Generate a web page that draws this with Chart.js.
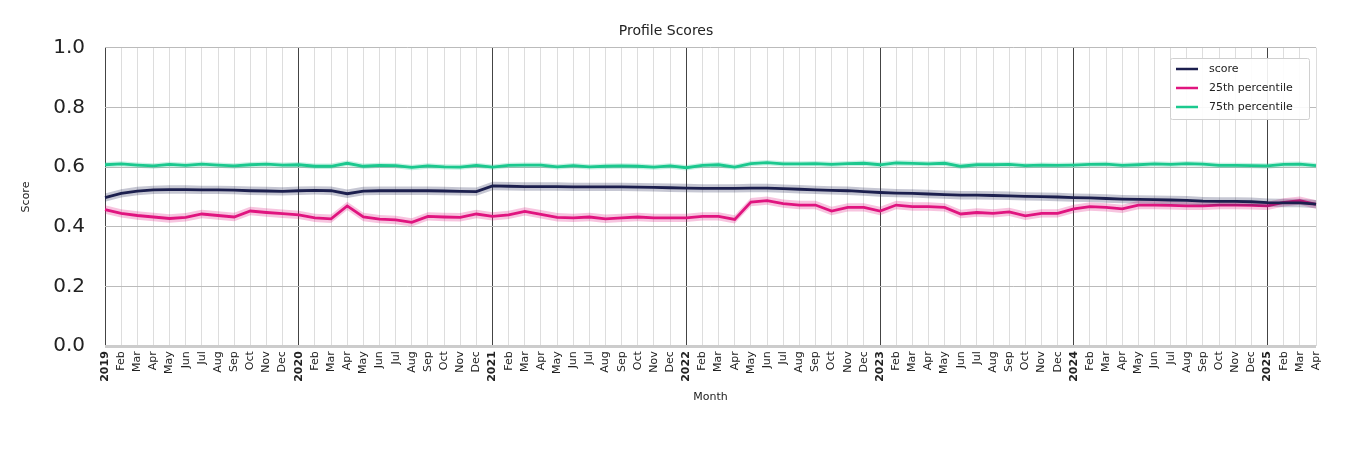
<!DOCTYPE html>
<html><head><meta charset="utf-8">
<script src="https://cdn.jsdelivr.net/npm/chart.js@4/dist/chart.umd.min.js"></script>
<style>html,body{margin:0;background:#fff}#w{width:1350px;height:450px}</style>
</head><body><div id="w"><canvas id="c"></canvas></div>
<script>
const monthNames = ["Jan","Feb","Mar","Apr","May","Jun","Jul","Aug","Sep","Oct","Nov","Dec"];
const years = [2019,2020,2021,2022,2023,2024,2025];
const labels = [];
for (const y of years) for (let m=0;m<12;m++){ if (y===2025 && m>3) break; labels.push(m===0?String(y):monthNames[m]); }

const score = [0.498,0.512,0.52,0.524,0.525,0.525,0.524,0.524,0.523,0.521,0.52,0.519,
0.521,0.522,0.521,0.511,0.52,0.521,0.521,0.521,0.521,0.52,0.519,0.518,
0.537,0.536,0.535,0.535,0.535,0.534,0.534,0.534,0.534,0.533,0.532,0.531,
0.53,0.529,0.529,0.529,0.53,0.53,0.528,0.526,0.524,0.522,0.521,0.518,
0.515,0.513,0.512,0.51,0.508,0.506,0.506,0.505,0.504,0.502,0.501,0.5,
0.498,0.497,0.495,0.493,0.492,0.491,0.49,0.489,0.486,0.485,0.485,0.484,
0.481,0.48,0.48,0.476];
const p25 = [0.458,0.445,0.438,0.433,0.428,0.432,0.443,0.438,0.433,0.453,0.448,0.444,
0.44,0.43,0.427,0.47,0.433,0.426,0.423,0.415,0.435,0.433,0.432,0.443,
0.435,0.44,0.452,0.442,0.432,0.43,0.433,0.427,0.43,0.433,0.43,0.43,
0.43,0.435,0.435,0.425,0.483,0.488,0.478,0.473,0.473,0.453,0.465,0.465,
0.453,0.473,0.468,0.468,0.465,0.443,0.448,0.445,0.45,0.437,0.445,0.445,
0.46,0.468,0.465,0.46,0.473,0.473,0.472,0.47,0.47,0.473,0.473,0.472,
0.47,0.482,0.488,0.475];
const p75 = [0.608,0.611,0.607,0.604,0.609,0.606,0.61,0.607,0.604,0.608,0.61,0.607,
0.608,0.603,0.603,0.613,0.603,0.606,0.605,0.599,0.604,0.601,0.6,0.606,
0.6,0.606,0.607,0.607,0.601,0.605,0.601,0.603,0.604,0.603,0.6,0.604,
0.598,0.606,0.608,0.6,0.612,0.615,0.611,0.611,0.612,0.609,0.612,0.613,
0.608,0.614,0.613,0.611,0.613,0.603,0.608,0.608,0.609,0.605,0.607,0.606,
0.607,0.609,0.61,0.606,0.608,0.611,0.609,0.612,0.61,0.606,0.606,0.605,
0.604,0.609,0.61,0.605];
const scoreBand = 0.014, p25Band = 0.014, p75Band = 0.009;

const NAVY="#1c1f4e", PINK="#e0157f", GREEN="#1bc98e";
function band(arr,h,sign){return arr.map(v=>v+sign*h);}
function rgba(hex,a){const n=parseInt(hex.slice(1),16);return `rgba(${n>>16},${(n>>8)&255},${n&255},${a})`;}
const ds=[];
[[score,scoreBand,NAVY,"score"],[p25,p25Band,PINK,"25th percentile"],[p75,p75Band,GREEN,"75th percentile"]].forEach(([d,h,c,l])=>{
  ds.push({label:"_lo",data:band(d,h,-1),borderWidth:0,pointRadius:0,fill:false,tension:0});
  ds.push({label:"_hi",data:band(d,h,1),borderWidth:0,pointRadius:0,fill:'-1',backgroundColor:rgba(c,0.25),tension:0});
  ds.push({label:l,data:d,borderColor:c,borderWidth:2.8,pointRadius:0,fill:false,tension:0});
});

const legendPlugin={id:'lg',afterDatasetsDraw(ch){
  const ctx=ch.ctx; const items=[["score",NAVY],["25th percentile",PINK],["75th percentile",GREEN]];
  const x=1170,y=58,w=139,h=61; ctx.save();
  ctx.fillStyle="rgba(255,255,255,0.9)"; ctx.strokeStyle="#d0d0d0"; ctx.lineWidth=1;
  ctx.beginPath(); ctx.roundRect(x+.5,y+.5,w,h,2); ctx.fill(); ctx.stroke();
  ctx.font="11px 'DejaVu Sans'"; ctx.textBaseline="middle";
  items.forEach(([t,c],i)=>{const yy=y+11+i*19; ctx.strokeStyle=c; ctx.lineWidth=2.5; ctx.beginPath(); ctx.moveTo(x+6,yy); ctx.lineTo(x+28,yy); ctx.stroke(); ctx.fillStyle="#222"; ctx.fillText(t,x+39,yy);});
  ctx.restore();}};

new Chart(document.getElementById('c'),{type:'line',data:{labels,datasets:ds},plugins:[legendPlugin],
options:{responsive:true,maintainAspectRatio:false,animation:false,
 layout:{padding:{left:16,right:34,top:23,bottom:42}},
 plugins:{legend:{display:false},tooltip:{enabled:false},
  title:{display:true,text:"Profile Scores",color:"#222",font:{family:"DejaVu Sans",size:14,weight:'normal'},padding:{top:0,bottom:8}}},
 scales:{
  x:{offset:false,grid:{color:(c)=>labels[c.index]&&/^\d{4}$/.test(labels[c.index])?"#444":"#ddd",lineWidth:1,drawTicks:false},border:{display:false},
   ticks:{autoSkip:false,maxRotation:90,minRotation:90,color:"#222",padding:5,
    font:(c)=>({family:"DejaVu Sans",size:11,weight:/^\d{4}$/.test(labels[c.index])?'bold':'normal'})},
   title:{display:true,text:"Month",color:"#222",font:{family:"DejaVu Sans",size:11},padding:{top:4}}},
  y:{min:0,max:1,grid:{color:(c)=>c.tick.value===0?"#ccc":"#bbb",lineWidth:(c)=>c.tick.value===0?3:1,drawTicks:false},border:{display:false},
   ticks:{stepSize:0.2,color:"#222",padding:20,font:{family:"DejaVu Sans",size:20},callback:v=>v.toFixed(1)},
   title:{display:true,text:"Score",color:"#222",font:{family:"DejaVu Sans",size:11},padding:{bottom:0}}}
 }}});
</script></body></html>
